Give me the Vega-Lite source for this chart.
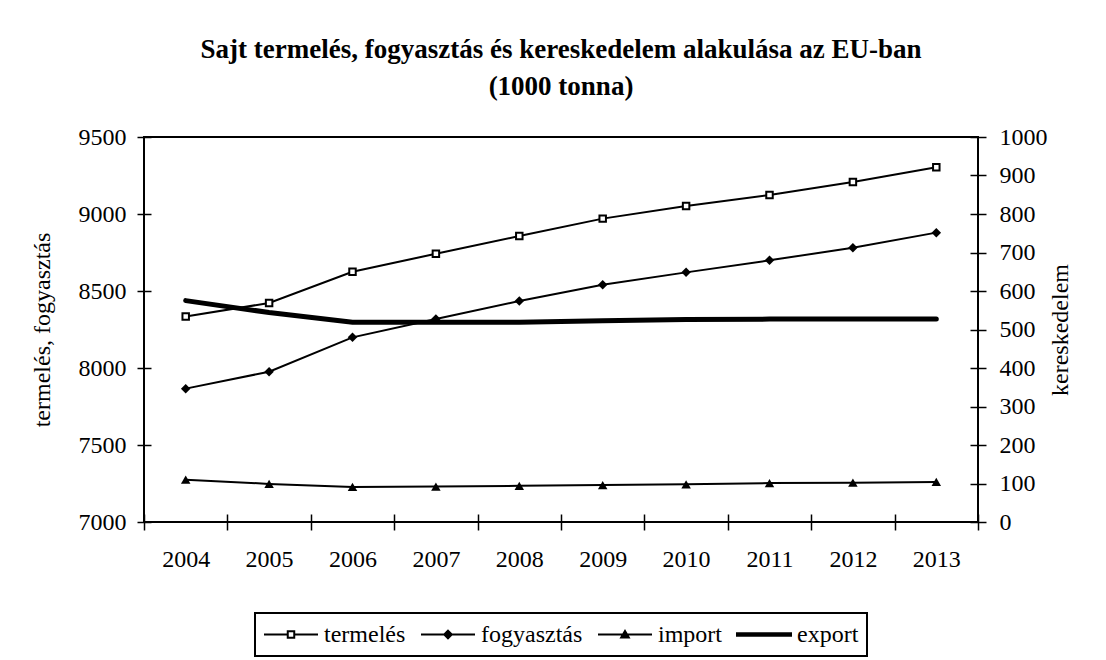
{
  "$schema": "https://vega.github.io/schema/vega-lite/v6.json",
  "autosize": {"type": "none"},
  "width": 834,
  "height": 385,
  "padding": {"left": 144, "top": 137, "right": 128, "bottom": 138},
  "background": "white",
  "title": {
    "text": ["Sajt termelés, fogyasztás és kereskedelem alakulása az EU-ban", "(1000 tonna)"],
    "font": "Liberation Serif",
    "fontSize": 27,
    "fontWeight": "bold",
    "color": "black",
    "lineHeight": 37,
    "anchor": "middle",
    "frame": "group",
    "offset": 24
  },
  "data": {
    "values": [
      {"year": "2004", "series": "termelés", "value": 8335},
      {"year": "2005", "series": "termelés", "value": 8422},
      {"year": "2006", "series": "termelés", "value": 8625},
      {"year": "2007", "series": "termelés", "value": 8742},
      {"year": "2008", "series": "termelés", "value": 8857},
      {"year": "2009", "series": "termelés", "value": 8970},
      {"year": "2010", "series": "termelés", "value": 9052},
      {"year": "2011", "series": "termelés", "value": 9123},
      {"year": "2012", "series": "termelés", "value": 9208},
      {"year": "2013", "series": "termelés", "value": 9303},
      {"year": "2004", "series": "fogyasztás", "value": 7866},
      {"year": "2005", "series": "fogyasztás", "value": 7976},
      {"year": "2006", "series": "fogyasztás", "value": 8199},
      {"year": "2007", "series": "fogyasztás", "value": 8318},
      {"year": "2008", "series": "fogyasztás", "value": 8435},
      {"year": "2009", "series": "fogyasztás", "value": 8541},
      {"year": "2010", "series": "fogyasztás", "value": 8621},
      {"year": "2011", "series": "fogyasztás", "value": 8699},
      {"year": "2012", "series": "fogyasztás", "value": 8781},
      {"year": "2013", "series": "fogyasztás", "value": 8879},
      {"year": "2004", "series": "import", "value": 110},
      {"year": "2005", "series": "import", "value": 99},
      {"year": "2006", "series": "import", "value": 91},
      {"year": "2007", "series": "import", "value": 92},
      {"year": "2008", "series": "import", "value": 94},
      {"year": "2009", "series": "import", "value": 96},
      {"year": "2010", "series": "import", "value": 98},
      {"year": "2011", "series": "import", "value": 101},
      {"year": "2012", "series": "import", "value": 102},
      {"year": "2013", "series": "import", "value": 104},
      {"year": "2004", "series": "export", "value": 575},
      {"year": "2005", "series": "export", "value": 544},
      {"year": "2006", "series": "export", "value": 519},
      {"year": "2007", "series": "export", "value": 519},
      {"year": "2008", "series": "export", "value": 519},
      {"year": "2009", "series": "export", "value": 523},
      {"year": "2010", "series": "export", "value": 526},
      {"year": "2011", "series": "export", "value": 527},
      {"year": "2012", "series": "export", "value": 527},
      {"year": "2013", "series": "export", "value": 527}
    ]
  },
  "encoding": {
    "x": {
      "field": "year",
      "type": "ordinal",
      "scale": {"type": "band", "paddingInner": 0, "paddingOuter": 0},
      "axis": {
        "title": null,
        "labelAngle": 0,
        "labelFont": "Liberation Serif",
        "labelFontSize": 24,
        "labelColor": "black",
        "domain": false,
        "tickBand": "extent",
        "offset": -8,
        "tickSize": 16,
        "labelPadding": 17
      }
    }
  },
  "layer": [
    {
      "encoding": {
        "y": {
          "field": "value",
          "type": "quantitative",
          "scale": {"domain": [7000, 9500], "nice": false, "zero": false},
          "axis": {
            "title": "termelés, fogyasztás",
            "format": "d",
            "labelFont": "Liberation Serif",
            "labelFontSize": 24,
            "labelColor": "black",
            "values": [7000, 7500, 8000, 8500, 9000, 9500],
            "grid": false,
            "domain": false,
            "offset": -7,
            "tickSize": 14,
            "labelPadding": 11,
            "titlePadding": 24
          }
        }
      },
      "layer": [
        {
          "transform": [{"filter": "datum.series === 'termelés' || datum.series === 'fogyasztás'"}],
          "mark": {"type": "line", "color": "black", "strokeWidth": 2},
          "encoding": {"detail": {"field": "series", "type": "nominal"}}
        },
        {
          "transform": [{"filter": "datum.series === 'termelés'"}],
          "mark": {"type": "point", "shape": "square", "filled": false, "fill": "white", "stroke": "black", "strokeWidth": 2, "size": 42, "opacity": 1}
        },
        {
          "transform": [{"filter": "datum.series === 'fogyasztás'"}],
          "mark": {"type": "point", "shape": "diamond", "filled": true, "color": "black", "size": 90, "opacity": 1}
        },
        {
          "transform": [{"filter": "false"}],
          "mark": {"type": "point", "filled": true, "strokeWidth": 2, "opacity": 1},
          "encoding": {
            "shape": {
              "field": "series",
              "type": "nominal",
              "scale": {
                "domain": ["termelés", "fogyasztás", "import", "export"],
                "range": [
                  "M-1,0H-0.12M0.12,0H1M-0.12,-0.12H0.12V0.12H-0.12Z",
                  "M-1,0H1M0,-0.14L0.14,0L0,0.14L-0.14,0Z",
                  "M-1,0H1M0,-0.13L0.14,0.11H-0.14Z",
                  "M-1,-0.05H1V0.05H-1Z"
                ]
              },
              "legend": {
                "title": null,
                "orient": "bottom",
                "direction": "horizontal",
                "symbolSize": 2916,
                "clipHeight": 27,
                "symbolStrokeWidth": 2,
                "symbolStrokeColor": "black",
                "labelFont": "Liberation Serif",
                "labelFontSize": 24,
                "labelColor": "black",
                "labelOffset": 5,
                "columnPadding": 14
              }
            },
            "fill": {
              "field": "series",
              "type": "nominal",
              "scale": {
                "domain": ["termelés", "fogyasztás", "import", "export"],
                "range": ["white", "black", "black", "black"]
              },
              "legend": {
                "title": null,
                "orient": "bottom",
                "direction": "horizontal",
                "symbolSize": 2916,
                "clipHeight": 27,
                "symbolStrokeWidth": 2,
                "symbolStrokeColor": "black",
                "labelFont": "Liberation Serif",
                "labelFontSize": 24,
                "labelColor": "black",
                "labelOffset": 5,
                "columnPadding": 14
              }
            },
            "stroke": {
              "field": "series",
              "type": "nominal",
              "scale": {
                "domain": ["termelés", "fogyasztás", "import", "export"],
                "range": ["black", "black", "black", "black"]
              },
              "legend": {
                "title": null,
                "orient": "bottom",
                "direction": "horizontal",
                "symbolSize": 2916,
                "clipHeight": 27,
                "symbolStrokeWidth": 2,
                "symbolStrokeColor": "black",
                "labelFont": "Liberation Serif",
                "labelFontSize": 24,
                "labelColor": "black",
                "labelOffset": 5,
                "columnPadding": 14
              }
            }
          }
        }
      ]
    },
    {
      "encoding": {
        "y": {
          "field": "value",
          "type": "quantitative",
          "scale": {"domain": [0, 1000], "nice": false},
          "axis": {
            "orient": "right",
            "title": "kereskedelem",
            "titleAngle": -90,
            "titleBaseline": "top",
            "format": "d",
            "labelFont": "Liberation Serif",
            "labelFontSize": 24,
            "labelColor": "black",
            "values": [0, 100, 200, 300, 400, 500, 600, 700, 800, 900, 1000],
            "grid": false,
            "domain": false,
            "offset": -8,
            "tickSize": 16,
            "labelPadding": 13,
            "titlePadding": 1
          }
        }
      },
      "layer": [
        {
          "transform": [{"filter": "datum.series === 'import'"}],
          "mark": {"type": "line", "color": "black", "strokeWidth": 2}
        },
        {
          "transform": [{"filter": "datum.series === 'export'"}],
          "mark": {"type": "line", "color": "black", "strokeWidth": 5, "strokeCap": "round"}
        },
        {
          "transform": [{"filter": "datum.series === 'import'"}],
          "mark": {"type": "point", "shape": "triangle-up", "filled": true, "color": "black", "size": 90, "opacity": 1}
        }
      ]
    }
  ],
  "resolve": {"scale": {"y": "independent"}},
  "config": {
    "view": {"stroke": "black", "strokeWidth": 2},
    "font": "Liberation Serif",
    "style": {
      "guide-label": {"font": "Liberation Serif", "fill": "black"},
      "guide-title": {"font": "Liberation Serif", "fill": "black"}
    },
    "axis": {
      "labelFont": "Liberation Serif",
      "labelFontSize": 24,
      "labelColor": "black",
      "titleFont": "Liberation Serif",
      "titleFontSize": 24,
      "titleFontWeight": "normal",
      "titleColor": "black",
      "tickColor": "black",
      "tickWidth": 1.5
    },
    "legend": {
      "labelFont": "Liberation Serif",
      "labelFontSize": 24,
      "labelColor": "black",
      "strokeColor": "black",
      "strokeWidth": 2,
      "padding": 8,
      "offset": 42,
      "layout": {"bottom": {"anchor": "middle"}}
    }
  }
}
